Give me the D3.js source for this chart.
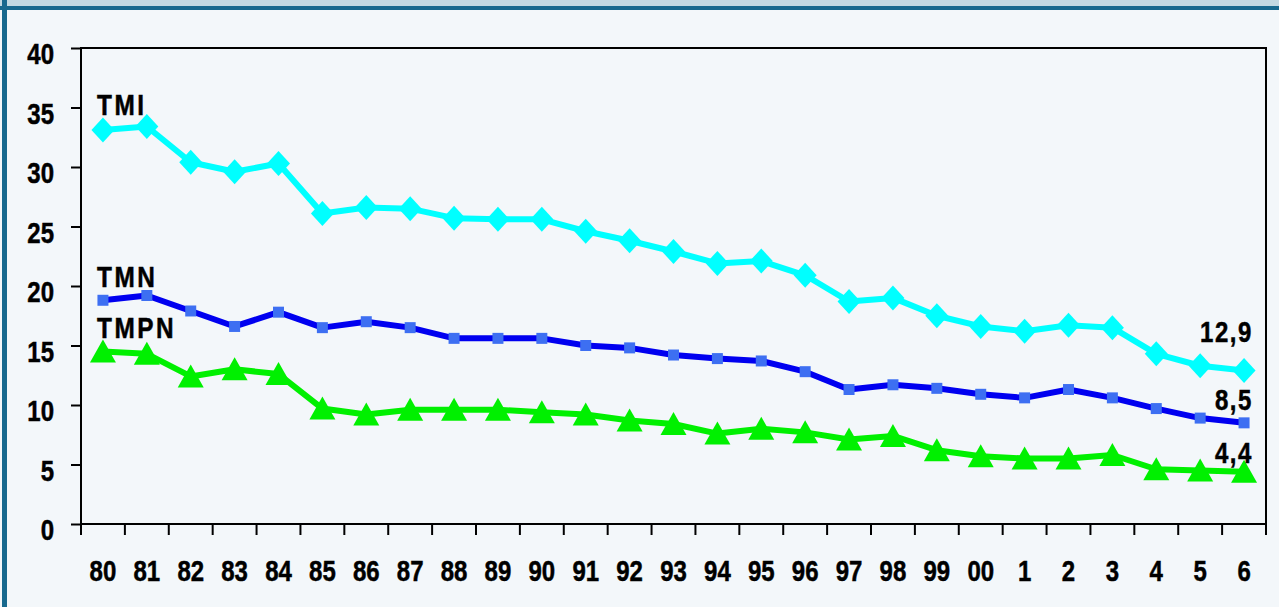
<!DOCTYPE html>
<html>
<head>
<meta charset="utf-8">
<script src="https://cdn.jsdelivr.net/npm/d3@7"></script>
<style>
  body { margin: 0; background: #f3f7fa; }
  svg text { font-family: "Liberation Sans", Arial, sans-serif; font-weight: bold; fill: #000; stroke: #000; stroke-width: 0.5px; }
</style>
</head>
<body>
<svg id="chart"></svg>
<script>
// years shown on the x axis
const years = ["80","81","82","83","84","85","86","87","88","89","90","91","92","93","94","95","96","97","98","99","00","1","2","3","4","5","6"];
const tmi  = [33.1,33.4,30.4,29.6,30.3,26.1,26.6,26.5,25.7,25.6,25.6,24.6,23.8,22.9,21.9,22.1,20.9,18.7,19.0,17.5,16.6,16.2,16.7,16.5,14.3,13.3,12.9];
const tmn  = [18.8,19.2,17.9,16.6,17.8,16.5,17.0,16.5,15.6,15.6,15.6,15.0,14.8,14.2,13.9,13.7,12.8,11.3,11.7,11.4,10.9,10.6,11.3,10.6,9.7,8.9,8.5];
const tmpn = [14.5,14.3,12.4,13.0,12.6,9.7,9.2,9.6,9.6,9.6,9.4,9.2,8.7,8.4,7.6,8.0,7.7,7.1,7.4,6.2,5.7,5.5,5.5,5.8,4.6,4.5,4.4];
const yTicks = [0,5,10,15,20,25,30,35,40];

const W = 1279, H = 607;
const margin = { top: 48, right: 13, bottom: 83, left: 81 };
const width = W - margin.left - margin.right;
const height = H - margin.top - margin.bottom;

const svg = d3.select("#chart").attr("width", W).attr("height", H);

// frame: light band on top, dark rule, dark left edge
svg.append("rect").attr("x", 0).attr("y", 0).attr("width", W).attr("height", 7).attr("fill", "#c2d9e2");
svg.append("rect").attr("x", 0).attr("y", 6).attr("width", W).attr("height", 4).attr("fill", "#17698e");
svg.append("rect").attr("x", 2).attr("y", 0).attr("width", 5).attr("height", H).attr("fill", "#17698e");

const chart = svg.append("g").attr("transform", `translate(${margin.left},${margin.top})`);

const x = d3.scaleBand().domain(years).range([0, width]);
const y = d3.scaleLinear().domain([0, 40]).range([height, 0]);
const cx = d => x(d) + x.bandwidth() / 2;

// squeeze text to look like a condensed face
function condense(sel, k) {
  sel.each(function() {
    const len = this.getComputedTextLength();
    d3.select(this).attr("textLength", len * k).attr("lengthAdjust", "spacingAndGlyphs");
  });
}

// plot box
chart.append("rect").attr("width", width).attr("height", height)
  .attr("fill", "none").attr("stroke", "#000").attr("stroke-width", 2);

// y axis (labels sit a bit below their ticks, as in the original)
const yAxis = chart.append("g").call(d3.axisLeft(y).tickValues(yTicks).tickSize(10).tickPadding(17));
yAxis.select(".domain").remove();
yAxis.selectAll("line").attr("stroke", "#000").attr("stroke-width", 2);
yAxis.selectAll("text").style("font-size", "30px").attr("dy", "0.52em").call(condense, 0.8);

// x axis: ticks at band edges
const xAxis = chart.append("g").attr("transform", `translate(0,${height})`)
  .call(d3.axisBottom(x).tickSize(0).tickPadding(36));
xAxis.select(".domain").remove();
xAxis.selectAll("text").style("font-size", "30px").call(condense, 0.8);
chart.append("g").selectAll("line")
  .data(years.concat(["end"]))
  .join("line")
  .attr("x1", (d, i) => i * x.step()).attr("x2", (d, i) => i * x.step())
  .attr("y1", height).attr("y2", height + 11)
  .attr("stroke", "#000").attr("stroke-width", 2);

// marker shapes
const diamond = { draw(c) { c.moveTo(0, -12.5); c.lineTo(11.5, 0); c.lineTo(0, 12.5); c.lineTo(-11.5, 0); c.closePath(); } };
const square = { draw(c) { c.rect(-5.5, -5.5, 11, 11); } };
const triangle = { draw(c) { c.moveTo(0, -12); c.lineTo(13, 11); c.lineTo(-13, 11); c.closePath(); } };

const line = d3.line().x((d, i) => cx(years[i])).y(d => y(d));

function drawSeries(values, color, stroke, symbol, markColor) {
  chart.append("path").datum(values)
    .attr("fill", "none").attr("stroke", color).attr("stroke-width", stroke)
    .attr("stroke-linejoin", "round")
    .attr("d", line);
  chart.append("g").selectAll("path")
    .data(values)
    .join("path")
    .attr("transform", (d, i) => `translate(${cx(years[i])},${y(d)})`)
    .attr("d", d3.symbol().type(symbol))
    .attr("fill", markColor);
}

drawSeries(tmi, "#00ffff", 6, diamond, "#00ffff");
drawSeries(tmn, "#0000f0", 6, square, "#3d6ff2");
drawSeries(tmpn, "#00f000", 6, triangle, "#00f000");

// series labels at the start of each line
const labels = [
  { t: "TMI", v: tmi[0], off: 15 },
  { t: "TMN", v: tmn[0], off: 13 },
  { t: "TMPN", v: tmpn[0], off: 13 }
];
chart.selectAll(".lab").data(labels).join("text")
  .attr("class", "lab")
  .attr("x", 16)
  .attr("y", d => y(d.v) - d.off)
  .style("font-size", "29px")
  .style("letter-spacing", "3px")
  .text(d => d.t)
  .call(condense, 0.84);

// last values
const ends = [
  { s: tmi, off: 28 },
  { s: tmn, off: 13 },
  { s: tmpn, off: 9 }
];
chart.selectAll(".endlab").data(ends).join("text")
  .attr("class", "endlab")
  .attr("x", cx(years[years.length - 1]) + 9)
  .attr("y", d => y(d.s[d.s.length - 1]) - d.off)
  .attr("text-anchor", "end")
  .style("font-size", "30px")
  .style("letter-spacing", "2px")
  .text(d => String(d.s[d.s.length - 1]).replace(".", ","))
  .call(condense, 0.8);
</script>
</body>
</html>
